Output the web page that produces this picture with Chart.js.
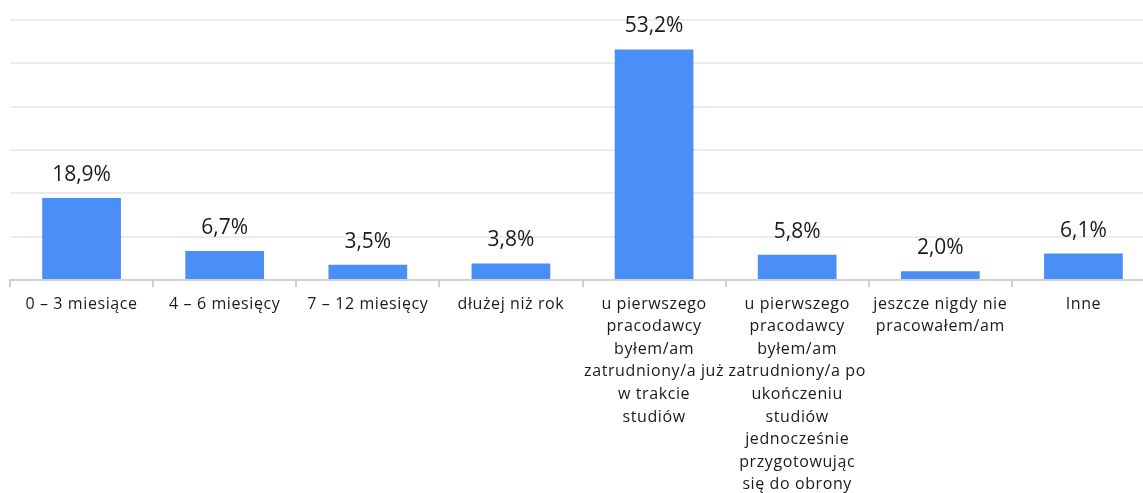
<!DOCTYPE html>
<html>
<head>
<meta charset="utf-8">
<script src="https://cdn.jsdelivr.net/npm/chart.js@4"></script>
<style>
  html, body { margin: 0; padding: 0; background: #fff; overflow: hidden; }
  #wrap { width: 1155px; height: 502px; }
</style>
</head>
<body>
<div id="wrap"><canvas id="barChart"></canvas></div>
<script>
// Categories (multi-line labels as in the original)
const categories = [
    '0 – 3 miesiące',
    '4 – 6 miesięcy',
    '7 – 12 miesięcy',
    'dłużej niż rok',
    ['u pierwszego', 'pracodawcy', 'byłem/am', 'zatrudniony/a już', 'w trakcie', 'studiów'],
    ['u pierwszego', 'pracodawcy', 'byłem/am', 'zatrudniony/a po', 'ukończeniu', 'studiów', 'jednocześnie', 'przygotowując', 'się do obrony'],
    ['jeszcze nigdy nie', 'pracowałem/am'],
    'Inne'
];

// Percent values
const percentValues = [18.9, 6.7, 3.5, 3.8, 53.2, 5.8, 2.0, 6.1];

// Hidden y ticks, only gridlines are drawn
const yTicks = [0, 10, 20, 30, 40, 50, 60];

const barColor = '#4a8ef8';
const labelFont = '"Open Sans", sans-serif';

// Slightly wider letter spacing, like the original's text
const spacing = {
    id: 'spacing',
    beforeDraw(chart) {
        chart.ctx.letterSpacing = '0.6px';
    }
};

// Draws the value above every bar
const valueLabels = {
    id: 'valueLabels',
    afterDatasetsDraw(chart) {
        const ctx = chart.ctx;
        const meta = chart.getDatasetMeta(0);
        ctx.save();
        ctx.letterSpacing = '0px';
        ctx.font = '21px ' + labelFont;
        ctx.fillStyle = '#1a1a1a';
        ctx.textAlign = 'center';
        ctx.textBaseline = 'alphabetic';
        meta.data.forEach((bar, i) => {
            const txt = percentValues[i].toFixed(1).replace('.', ',') + '%';
            ctx.fillText(txt, bar.x, bar.y - 17);
        });
        ctx.restore();
    }
};

const ctx = document.getElementById('barChart').getContext('2d');
new Chart(ctx, {
    type: 'bar',
    data: {
        labels: categories,
        datasets: [{
            data: percentValues,
            backgroundColor: barColor,
            borderWidth: 0,
            categoryPercentage: 0.55,
            barPercentage: 1.0
        }]
    },
    options: {
        responsive: true,
        maintainAspectRatio: false,
        animation: false,
        layout: { padding: { top: 20, left: 10, right: 0, bottom: 0 } },
        plugins: {
            legend: { display: false },
            tooltip: { enabled: false }
        },
        scales: {
            x: {
                offset: true,
                grid: {
                    offset: true,
                    drawOnChartArea: false,
                    drawTicks: true,
                    tickLength: 7,
                    color: '#cfcfcf',
                    lineWidth: 2
                },
                border: { display: true, color: '#cfcfcf', width: 2 },
                ticks: {
                    autoSkip: false,
                    maxRotation: 0,
                    minRotation: 0,
                    padding: 6,
                    color: '#1a1a1a',
                    font: { size: 16, family: labelFont, lineHeight: 1.41 }
                }
            },
            y: {
                min: yTicks[0],
                max: yTicks[yTicks.length - 1],
                afterBuildTicks(scale) {
                    scale.ticks = yTicks.map(v => ({ value: v }));
                },
                grid: { color: '#ececec', lineWidth: 2, drawTicks: false },
                border: { display: false },
                ticks: { display: false }
            }
        }
    },
    plugins: [spacing, valueLabels]
});
</script>
</body>
</html>
